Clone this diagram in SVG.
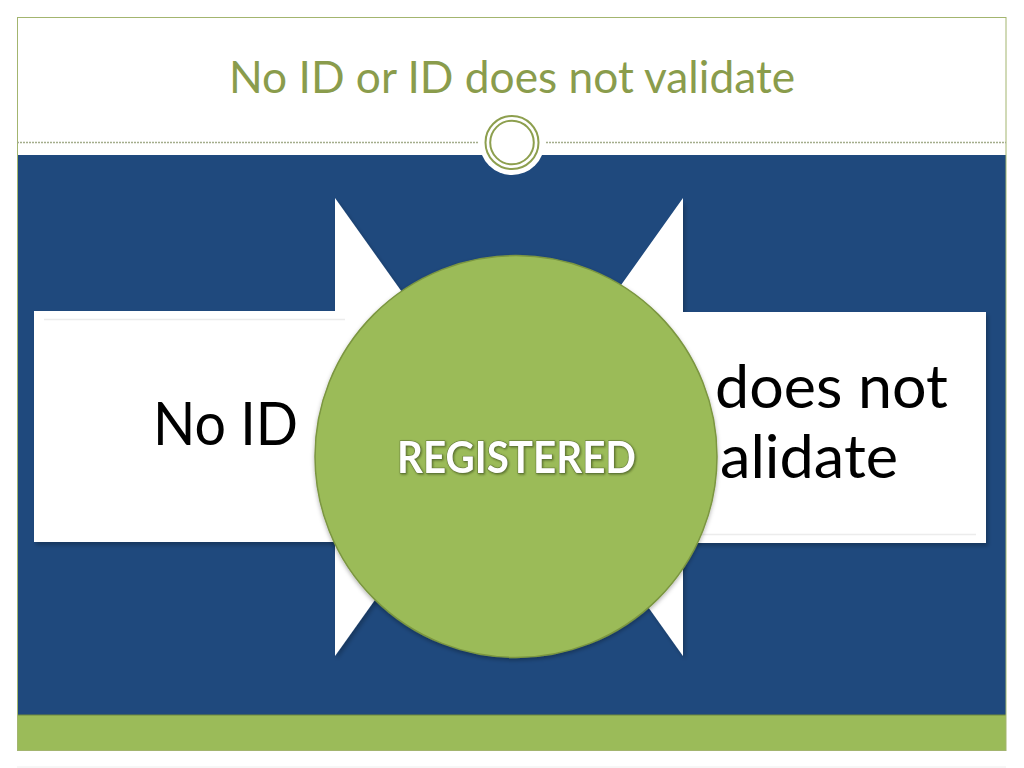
<svg xmlns="http://www.w3.org/2000/svg" width="1024" height="768" viewBox="0 0 1024 768">
  <defs>
    <style>
      .title { font-family: Lato, "Open Sans", "DejaVu Sans", sans-serif; font-size: 45px; fill: #8a9c4c; }
      .lbl { font-family: Lato, "Open Sans", "DejaVu Sans", sans-serif; font-size: 60px; fill: #000000; }
      .reg { font-family: Lato, "Open Sans", "DejaVu Sans", sans-serif; font-size: 44px; font-weight: bold; fill: #ffffff; stroke: #5d7233; stroke-width: 1; paint-order: stroke; }
      .arrow { fill: #ffffff; filter: url(#shadow); }
      .dots { stroke: #a4ad8c; stroke-width: 1.3; stroke-dasharray: 2 1; }
    </style>
    <filter id="shadow" x="-10%" y="-10%" width="120%" height="120%">
      <feDropShadow dx="2" dy="3" stdDeviation="2" flood-color="#000000" flood-opacity="0.25"/>
    </filter>
    <filter id="cshadow" x="-10%" y="-10%" width="120%" height="120%">
      <feDropShadow dx="0" dy="2" stdDeviation="2" flood-color="#000000" flood-opacity="0.3"/>
    </filter>
    <filter id="tshadow" x="-10%" y="-20%" width="120%" height="140%">
      <feDropShadow dx="1" dy="1" stdDeviation="1" flood-color="#2f3d15" flood-opacity="0.6"/>
    </filter>
  </defs>

  <rect x="0" y="0" width="1024" height="768" fill="#ffffff"/>

  <g id="frame">
    <rect x="17" y="155" width="989" height="560" fill="#1f497d"/>
    <rect x="17" y="715" width="989" height="35" fill="#9bbb59"/>
    <line x1="17" y1="715" x2="1006" y2="715" stroke="#6f8a3c" stroke-width="1"/>
    <rect x="17.5" y="17.5" width="988.5" height="733" fill="none" stroke="#a3b56f" stroke-width="1"/>
    <line x1="17" y1="767" x2="1006" y2="767" stroke="#eeeeee" stroke-width="1"/>
  </g>

  <g id="title">
    <text class="title" x="512" y="93" text-anchor="middle" textLength="566" lengthAdjust="spacingAndGlyphs">No ID or ID does not validate</text>
  </g>

  <g id="ornament">
    <line class="dots" x1="17" y1="142.5" x2="478" y2="142.5"/>
    <line class="dots" x1="546" y1="142.5" x2="1006" y2="142.5"/>
    <circle cx="512" cy="142.5" r="32.5" fill="#ffffff"/>
    <circle cx="512" cy="142.5" r="26.5" fill="none" stroke="#8d9f4e" stroke-width="2"/>
    <circle cx="512" cy="142.5" r="21.8" fill="none" stroke="#8d9f4e" stroke-width="2"/>
  </g>

  <g id="connectors"></g>

  <g id="arrow-left">
    <path class="arrow" d="M34,311 L335,311 L335,198 L498,427 L335,656 L335,542 L34,542 Z"/>
    <line x1="44" y1="319.5" x2="345" y2="319.5" stroke="#ececec" stroke-width="1.5"/>
    <text class="lbl" x="153" y="445" textLength="145" lengthAdjust="spacingAndGlyphs">No ID</text>
  </g>

  <g id="arrow-right">
    <path class="arrow" d="M986,312 L683,312 L683,198 L520,427 L683,656 L683,543 L986,543 Z"/>
    <line x1="700" y1="534.5" x2="976" y2="534.5" stroke="#ececec" stroke-width="1.5"/>
    <text class="lbl" x="715" y="408" textLength="233" lengthAdjust="spacingAndGlyphs">does not</text>
    <text class="lbl" x="720" y="478" textLength="178" lengthAdjust="spacingAndGlyphs">alidate</text>
  </g>

  <g id="registered">
    <circle cx="516" cy="456.5" r="201" fill="#9bbb59" stroke="#7b9640" stroke-width="1.5" filter="url(#cshadow)"/>
    <text class="reg" x="516.5" y="473" text-anchor="middle" textLength="239" lengthAdjust="spacingAndGlyphs" filter="url(#tshadow)">REGISTERED</text>
  </g>
</svg>
